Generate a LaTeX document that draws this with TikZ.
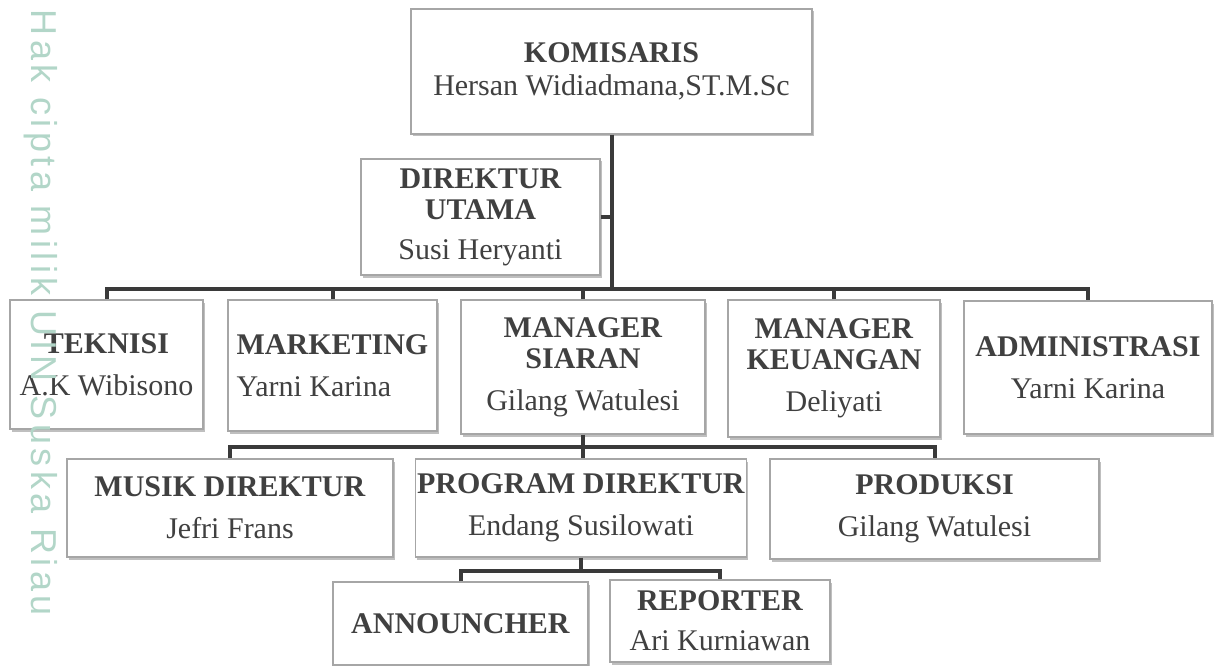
\documentclass[tikz,border=0pt]{standalone}
\usepackage{fontspec}
\setmainfont{Liberation Serif}
\newfontfamily\wmfont[LetterSpace=12.5]{Liberation Sans}
\usetikzlibrary{shadows}
\definecolor{linegray}{HTML}{3A3A3A}
\definecolor{boxgray}{HTML}{A6A6A6}
\definecolor{txtgray}{HTML}{404040}
\definecolor{wmteal}{RGB}{178,214,200}
\newcommand{\jab}[1]{\textbf{#1}}

\begin{document}
\begin{tikzpicture}[x=1pt, y=-1pt,
    box/.style={draw=boxgray, line width=1.2pt, fill=white, align=center,
                inner sep=2pt, text=txtgray,
                font=\fontsize{30}{31}\selectfont,
                drop shadow={shadow xshift=1.5pt, shadow yshift=-2.5pt,
                             opacity=0.25, fill=black}},
    link/.style={draw=linegray, line width=4pt},
    wm/.style={font=\wmfont\fontsize{36}{36}\selectfont, text=wmteal, rotate=-90}
  ]
  \useasboundingbox (0,0) rectangle (1219,666);
  % Top of the chart
  \node[box, minimum width=401pt, minimum height=125pt] (kom) at (611.5,71.5)
    {\jab{KOMISARIS}\\[2pt] Hersan Widiadmana,ST.M.Sc};
  \node[box, minimum width=239pt, minimum height=116pt] (dir) at (480.5,217)
    {\jab{DIREKTUR}\\ \jab{UTAMA}\\[9pt] Susi Heryanti};
  % Second row
  \node[box, minimum width=193pt, minimum height=129pt] (tek) at (106.5,364.5)
    {\jab{TEKNISI}\\[11pt] A.K Wibisono};
  \node[box, minimum width=209pt, minimum height=131pt, align=left] (mkt) at (332.5,365.5)
    {\jab{MARKETING}\\[11pt] Yarni Karina};
  \node[box, minimum width=244pt, minimum height=134pt] (ms) at (583,367)
    {\jab{MANAGER}\\ \jab{SIARAN}\\[11pt] Gilang Watulesi};
  \node[box, minimum width=212pt, minimum height=137pt] (mk) at (834,368.5)
    {\jab{MANAGER}\\ \jab{KEUANGAN}\\[11pt] Deliyati};
  \node[box, minimum width=248pt, minimum height=133pt] (adm) at (1088,367.5)
    {\jab{ADMINISTRASI}\\[11pt] Yarni Karina};
  % Third row
  \node[box, minimum width=326pt, minimum height=98pt] (mus) at (230,508)
    {\jab{MUSIK DIREKTUR}\\[11pt] Jefri Frans};
  \node[box, minimum width=328pt, minimum height=98pt] (prog) at (581,508)
    {\jab{PROGRAM DIREKTUR}\\[11pt] Endang Susilowati};
  \node[box, minimum width=329pt, minimum height=100pt] (prd) at (934.5,509)
    {\jab{PRODUKSI}\\[11pt] Gilang Watulesi};
  % Fourth row
  \node[box, minimum width=255pt, minimum height=83pt] (ann) at (460.5,623.5)
    {\jab{ANNOUNCHER}};
  \node[box, minimum width=220pt, minimum height=82pt] (rep) at (720,621)
    {\jab{REPORTER}\\[9pt] Ari Kurniawan};
  % Bus lines
  \coordinate (bus1) at (611,289);
  \coordinate (bus3) at (583,447);
  \coordinate (bus4) at (582,571);
  \draw[link] (kom.south) -- (kom.south |- bus1);
  \draw[link] (dir.east) -- (dir.east -| kom.south);
  \draw[link] (tek.north) |- (adm.north |- bus1) -- (adm.north);
  \foreach \n in {mkt,ms,mk}
    \draw[link] (\n.north) -- (\n.north |- bus1);
  \draw[link] (mus.north) |- (prd.north |- bus3) -- (prd.north);
  \draw[link] (ms.south) -- (ms.south |- prog.north);
  \draw[link] (ann.north) |- (rep.north |- bus4) -- (rep.north);
  \draw[link] (prog.south) -- (prog.south |- bus4);
  % Watermark
  \node[wm] (wmark) at (41,313) {Hak cipta milik UIN Suska Riau};
\end{tikzpicture}
\end{document}
